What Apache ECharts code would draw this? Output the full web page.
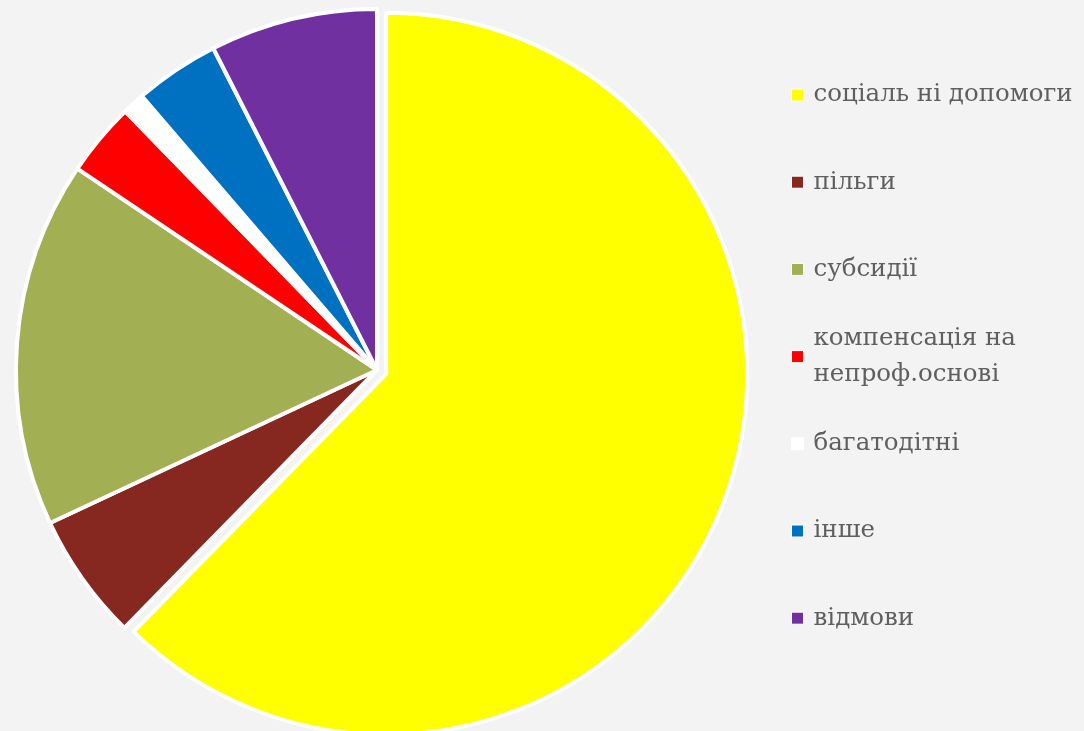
<!DOCTYPE html>
<html>
<head>
<meta charset="utf-8">
<script src="https://cdn.jsdelivr.net/npm/echarts@6/dist/echarts.min.js"></script>
<style>
  html, body { margin: 0; padding: 0; background: #f3f3f3; }
  #chart { width: 1084px; height: 731px; }
</style>
</head>
<body>
<div id="chart"></div>
<script>
// categories and shares (percent)
const categories = [
  'соціаль ні допомоги',
  'пільги',
  'субсидії',
  'компенсація на\nнепроф.основі',
  'багатодітні',
  'інше',
  'відмови'
]
const shares = [62.4, 5.7, 16.4, 3.3, 1.0, 3.8, 7.5]
const colors = ['#ffff00', '#862720', '#a2af52', '#ff0000', '#ffffff', '#0070c0', '#7030a0']

const chart = echarts.init(document.getElementById('chart'))

const lineH = 36
const legendStep = 87.2
const firstIcon = 95

// one legend per entry so the markers keep an even step like the original
const legends = categories.map((name, i) => {
  const lines = name.split('\n').length
  const padTop = (lines - 1) * lineH
  const boxH = lines * lineH + padTop
  return {
    data: [name],
    orient: 'vertical',
    left: 791,
    top: firstIcon + i * legendStep - boxH / 2,
    padding: 0,
    icon: 'rect',
    itemWidth: 12,
    itemHeight: 12,
    selectedMode: false,
    itemStyle: { borderWidth: 1, borderColor: '#ffffff' },
    textStyle: {
      fontFamily: '"DejaVu Serif", "Liberation Serif", serif',
      fontSize: 24.5,
      color: '#5f5f5f',
      lineHeight: lineH,
      padding: [padTop, 0, 0, 5]
    }
  }
})

const option = {
  backgroundColor: '#f3f3f3',
  animation: false,
  legend: legends,
  series: [
    {
      type: 'pie',
      center: [377, 370],
      radius: 361,
      startAngle: 90,
      clockwise: true,
      selectedMode: 'single',
      selectedOffset: 10,
      label: { show: false },
      labelLine: { show: false },
      emphasis: { disabled: true },
      itemStyle: { borderColor: '#ffffff', borderWidth: 4 },
      data: categories.map((name, i) => ({
        name,
        value: shares[i],
        selected: i === 0,
        itemStyle: { color: colors[i] }
      }))
    }
  ]
}

chart.setOption(option)
</script>
</body>
</html>
